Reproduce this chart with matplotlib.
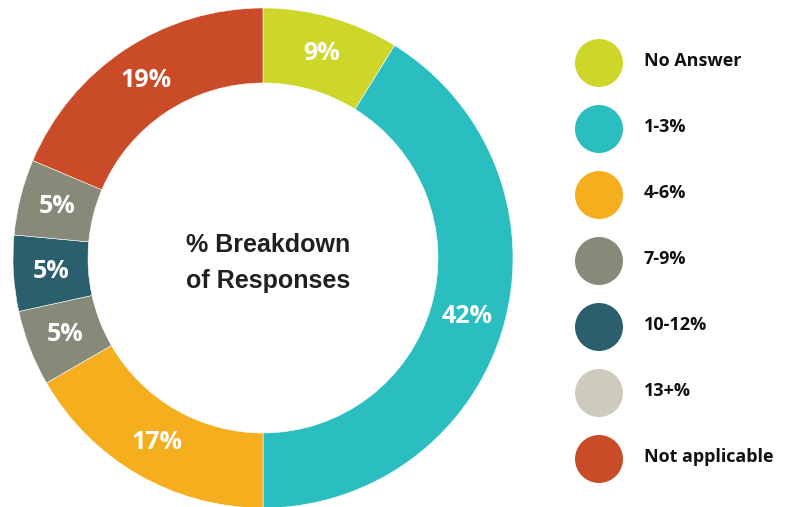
import matplotlib
matplotlib.use("Agg")
import matplotlib.pyplot as plt
from matplotlib.patches import Circle

# Donut slices, clockwise from 12 o'clock
slice_values = [9, 42, 17, 5, 5, 5, 19]
slice_colors = ["#cfd62a", "#2bbec0", "#f5ae1d", "#878a79", "#2b5f6d", "#878a79", "#c94b27"]

# Legend entries
legend_labels = ["No Answer", "1-3%", "4-6%", "7-9%", "10-12%", "13+%", "Not applicable"]
legend_colors = ["#cfd62a", "#2bbec0", "#f5ae1d", "#878a79", "#2b5f6d", "#cdcbbd", "#c94b27"]

center_title = "% Breakdown\nof Responses"

W, H = 791, 507
fig = plt.figure(figsize=(W / 100, H / 100), dpi=100)
fig.patch.set_facecolor("white")

# Donut axes
ax = fig.add_axes([13 / W, (H - 508) / H, 500 / W, 500 / H])
total = sum(slice_values)


def pct_label(p):
    return f"{round(p * total / 100)}%"


wedges, _, autotexts = ax.pie(
    slice_values,
    colors=slice_colors,
    startangle=90,
    counterclock=False,
    radius=1.0,
    wedgeprops=dict(width=0.30, edgecolor="white", linewidth=0.4),
    autopct=pct_label,
    pctdistance=0.85,
)
for t in autotexts:
    t.set_color("white")
    t.set_fontsize(18)
    t.set_fontweight("bold")
    t.set_family("Open Sans")
    t.set_ha("center")
    t.set_va("center")

ax.text(0.02, -0.02, center_title, ha="center", va="center",
        fontsize=18, fontweight="bold", family="Liberation Sans",
        color="#231f20", linespacing=1.6)
ax.set_xlim(-1, 1)
ax.set_ylim(-1, 1)
ax.set_aspect("equal")
ax.axis("off")

# Legend drawn in pixel coordinates
lax = fig.add_axes([0, 0, 1, 1])
lax.set_xlim(0, W)
lax.set_ylim(H, 0)
lax.axis("off")
y0, step = 63, 66
for i, (lab, col) in enumerate(zip(legend_labels, legend_colors)):
    y = y0 + i * step
    lax.add_patch(Circle((599, y), 24, facecolor=col, edgecolor="none"))
    lax.text(644, y - 2, lab, ha="left", va="center", fontsize=13,
             fontweight="bold", family="Open Sans", color="#111111")

fig.savefig("out.png", dpi=100, facecolor="white")
